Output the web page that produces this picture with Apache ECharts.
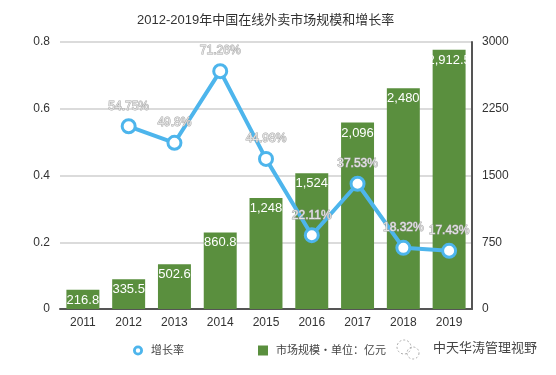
<!DOCTYPE html>
<html>
<head>
<meta charset="utf-8">
<script src="https://cdn.jsdelivr.net/npm/echarts@6/dist/echarts.min.js"></script>
<style>
  html, body { margin: 0; padding: 0; background: #fff; }
  #chart { width: 556px; height: 375px; }
</style>
</head>
<body>
<div id="chart"></div>
<script>
const years = ['2011', '2012', '2013', '2014', '2015', '2016', '2017', '2018', '2019'];
const marketSize = [216.8, 335.5, 502.6, 860.8, 1248, 1524, 2096, 2480, 2912.5];
const growthRate = [null, 0.5475, 0.498, 0.7126, 0.4498, 0.2211, 0.3753, 0.1832, 0.1743];
const growthLabels = ['', '54.75%', '49.8%', '71.26%', '44.98%', '22.11%', '37.53%', '18.32%', '17.43%'];

const FONT = '"Liberation Sans", "Noto Sans CJK SC", sans-serif';
const BLUE = '#4db5ec';
const GREEN = '#5a8f3e';
// ring icon for the line legend entry
const RING = 'path://M50,0A50,50,0,1,1,49.9,0ZM50,28A22,22,0,1,0,50.1,28Z';

const chart = echarts.init(document.getElementById('chart'));

const option = {
  animation: false,
  textStyle: { fontFamily: FONT },
  title: {
    text: '2012-2019年中国在线外卖市场规模和增长率',
    left: 132,
    top: 9,
    textStyle: { fontSize: 13, fontWeight: 'normal', color: '#333', fontFamily: FONT },
  },
  legend: {
    left: 128,
    top: 340,
    itemGap: 74,
    itemWidth: 10,
    itemHeight: 10,
    textStyle: { fontSize: 11, color: '#444', fontFamily: FONT, padding: [0, 0, 0, 3] },
    data: [
      { name: '增长率', icon: RING, itemStyle: { color: BLUE, borderWidth: 0 } },
      { name: '市场规模・单位：亿元', icon: 'rect' },
    ],
  },
  grid: { left: 60, right: 84, top: 42, bottom: 66 },
  xAxis: {
    type: 'category',
    data: years,
    axisTick: { show: false },
    axisLine: { show: true, lineStyle: { color: '#555', width: 2 } },
    axisLabel: { color: '#333', fontSize: 12, margin: 8 },
  },
  yAxis: [
    {
      type: 'value',
      min: 0,
      max: 0.8,
      interval: 0.2,
      axisLine: { show: false },
      axisTick: { show: false },
      axisLabel: { color: '#333', fontSize: 12, margin: 10 },
      splitLine: { lineStyle: { color: '#cfcfcf', width: 1.5 } },
    },
    {
      type: 'value',
      min: 0,
      max: 3000,
      interval: 750,
      position: 'right',
      axisLine: { show: true, lineStyle: { color: '#555', width: 2 } },
      axisTick: { show: false },
      axisLabel: { color: '#333', fontSize: 12, margin: 10, formatter: (v) => String(v) },
      splitLine: { show: false },
    },
  ],
  series: [
    {
      name: '市场规模・单位：亿元',
      type: 'bar',
      yAxisIndex: 1,
      data: marketSize,
      barCategoryGap: '28%',
      itemStyle: { color: GREEN },
      label: {
        show: true,
        position: 'insideTop',
        distance: 4,
        color: '#fff',
        fontSize: 13,
        fontFamily: FONT,
        formatter: (p) => Number(p.value).toLocaleString('en-US'),
      },
      z: 2,
    },
    {
      name: '增长率',
      type: 'line',
      yAxisIndex: 0,
      data: growthRate,
      symbol: 'circle',
      symbolSize: 13,
      lineStyle: { color: BLUE, width: 4 },
      itemStyle: { color: '#fff', borderColor: BLUE, borderWidth: 3 },
      label: {
        show: true,
        position: 'top',
        distance: 6,
        fontSize: 12,
        color: '#e4e4e4',
        textBorderColor: '#a8a8a8',
        textBorderWidth: 1,
        fontFamily: FONT,
        formatter: (p) => growthLabels[p.dataIndex],
      },
      z: 5,
    },
  ],
  graphic: [
    {
      type: 'circle',
      shape: { cx: 404, cy: 347, r: 7 },
      style: { fill: 'none', stroke: '#aaa', lineWidth: 1, lineDash: [2, 2] },
    },
    {
      type: 'circle',
      shape: { cx: 413, cy: 353, r: 6 },
      style: { fill: 'none', stroke: '#aaa', lineWidth: 1, lineDash: [2, 2] },
    },
    {
      type: 'text',
      left: 433,
      top: 342,
      style: { text: '中天华涛管理视野', fontSize: 13, fill: '#444', fontFamily: FONT },
    },
  ],
};

chart.setOption(option);
</script>
</body>
</html>
